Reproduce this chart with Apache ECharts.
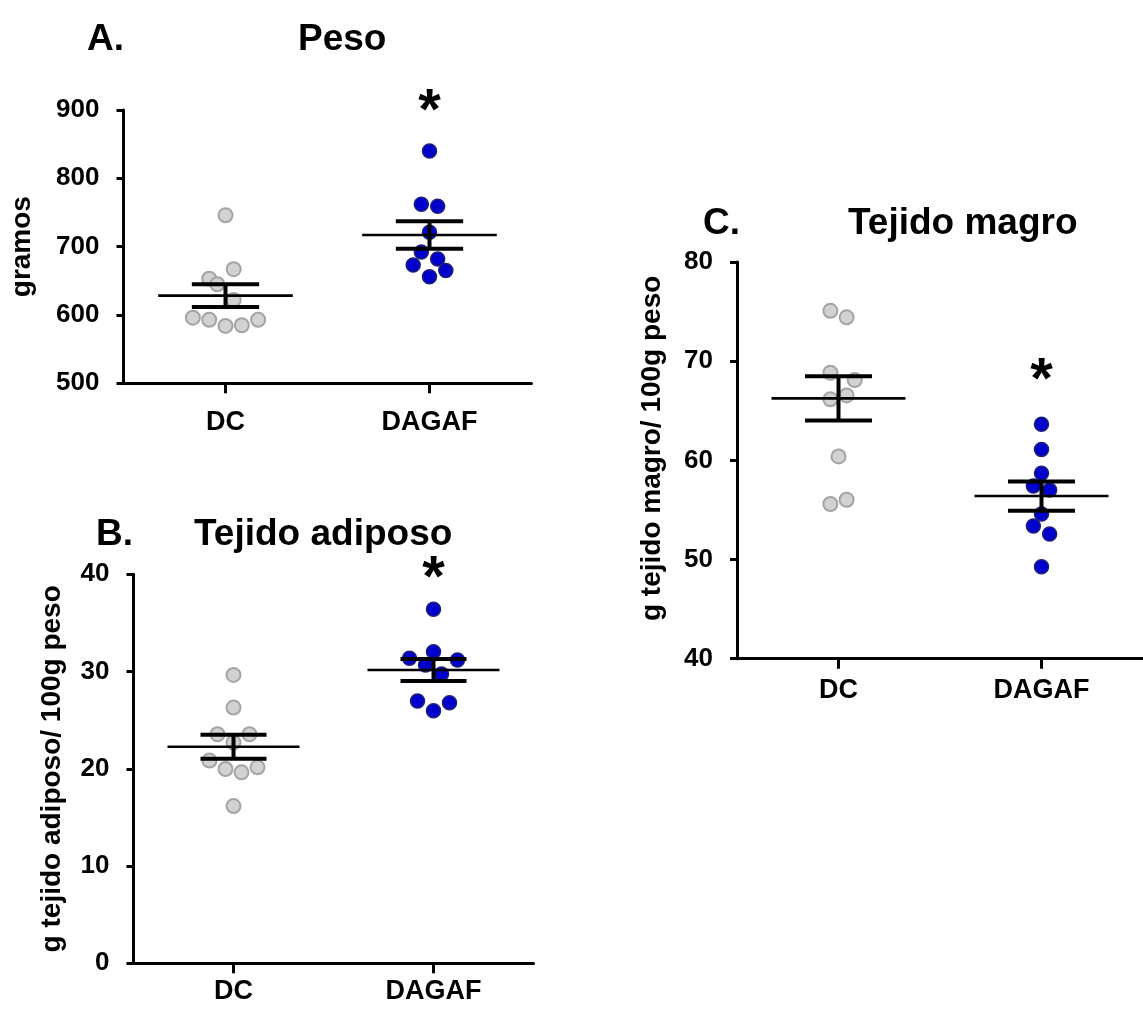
<!DOCTYPE html>
<html><head><meta charset="utf-8">
<script src="https://cdn.jsdelivr.net/npm/echarts@6/dist/echarts.min.js"></script>
<style>html,body{margin:0;padding:0;background:#fff}#c{width:1143px;height:1009px}</style>
</head><body><div id="c"></div>
<script>
// ---------- DATA ----------
const categories = ['DC', 'DAGAF'];

// A. Peso (gramos)
const pesoDC = [746, 667, 653, 645, 622, 596, 593, 584, 585, 593];
const pesoDCJitter = [0, 0.04, -0.08, -0.04, 0.04, -0.16, -0.08, 0, 0.08, 0.16];
const pesoDAGAF = [840, 762, 759, 721, 692, 682, 673, 665, 656];
const pesoDAGAFJitter = [0, -0.04, 0.04, 0, -0.04, 0.04, -0.08, 0.08, 0];
const pesoMean = [628.3, 717];
const pesoSEM = [16.6, 20];

// B. Tejido adiposo (g / 100g peso)
const adipDC = [29.65, 26.3, 23.55, 23.55, 22.7, 20.85, 20.15, 19.98, 19.64, 16.17];
const adipDCJitter = [0, 0, -0.08, 0.08, 0, -0.12, 0.12, -0.04, 0.04, 0];
const adipDAGAF = [36.4, 32.04, 31.36, 31.19, 30.67, 29.75, 26.97, 26.8, 25.97];
const adipDAGAFJitter = [0, 0, -0.12, 0.12, -0.04, 0.04, -0.08, 0.08, 0];
const adipMean = [22.27, 30.16];
const adipSEM = [1.24, 1.12];

// C. Tejido magro (g / 100g peso)
const magroDC = [75.08, 74.42, 68.83, 68.1, 66.55, 66.15, 60.4, 56.03, 55.6];
const magroDCJitter = [-0.04, 0.04, -0.04, 0.08, 0.04, -0.04, 0, 0.04, -0.04];
const magroDAGAF = [63.63, 61.1, 58.69, 57.41, 57.0, 54.59, 53.38, 52.57, 49.27];
const magroDAGAFJitter = [0, 0, 0, -0.04, 0.04, 0, -0.04, 0.04, 0];
const magroMean = [66.25, 56.4];
const magroSEM = [2.23, 1.48];

// significance marks (group index, y position of mark)
const starA = [1, 895];
const starB = [1, 39.4];
const starC = [1, 67.9];

// ---------- CHART ----------
const FONT = '"Liberation Sans", Arial, sans-serif';
const chart = echarts.init(document.getElementById('c'), null, {renderer: 'canvas'});

function pts(vals, jit, g) {
  return vals.map((v, i) => [g + 0.5 + jit[i], v]);
}
function errData(mean, sem) {
  return mean.map((m, i) => [i + 0.5, m, sem[i]]);
}
function errRender(params, api) {
  const x = api.value(0), m = api.value(1), s = api.value(2);
  const a = api.coord([x - 0.33, m]), b = api.coord([x + 0.33, m]);
  const u1 = api.coord([x - 0.165, m + s]), u2 = api.coord([x + 0.165, m + s]);
  const l1 = api.coord([x - 0.165, m - s]), l2 = api.coord([x + 0.165, m - s]);
  const c = api.coord([x, m]);
  const ln = (p, q, w) => ({type: 'line', shape: {x1: p[0], y1: p[1], x2: q[0], y2: q[1]},
    style: {stroke: '#000', lineWidth: w}});
  return {type: 'group', children: [
    ln(a, b, 2.6),
    ln(u1, u2, 4),
    ln(l1, l2, 4),
    ln([c[0], u1[1]], [c[0], l1[1]], 4)
  ]};
}
function starRender(params, api) {
  const p = api.coord([api.value(0) + 0.5, api.value(1)]);
  return {type: 'text', x: p[0], y: p[1],
    style: {text: '*', fill: '#000', font: 'bold 58px ' + FONT, align: 'center', verticalAlign: 'middle'}};
}

const grids = [
  {left: 123.5, top: 110, width: 408, height: 273.3},
  {left: 133.5, top: 574.3, width: 400, height: 389},
  {left: 737, top: 262, width: 414, height: 396.7}
];
const labelMargins = [26, 15, 18];
const yCfg = [
  {min: 500, max: 900, interval: 100, name: 'gramos', gap: 87, pad: [0, 0, 0, 0]},
  {min: 0, max: 40, interval: 10, name: 'g tejido adiposo/ 100g peso', gap: 67, pad: [0, 0, 0, 0]},
  {min: 40, max: 80, interval: 10, name: 'g tejido magro/ 100g peso', gap: 71, pad: [0, 0, 0, 24]}
];

const xAxes = [], yAxes = [];
grids.forEach((g, i) => {
  xAxes.push({
    type: 'category', gridIndex: i, data: categories, boundaryGap: true,
    axisLine: {show: true, lineStyle: {color: '#000', width: 3}},
    axisTick: {show: true, alignWithLabel: true, length: 10, lineStyle: {color: '#000', width: 3}},
    axisLabel: {color: '#000', fontFamily: FONT, fontWeight: 'bold', fontSize: 27, margin: labelMargins[i]},
    splitLine: {show: false}
  });
  xAxes.push({
    type: 'value', gridIndex: i, min: 0, max: 2, show: false, splitLine: {show: false}
  });
  const y = yCfg[i];
  yAxes.push({
    type: 'value', gridIndex: i, min: y.min, max: y.max, interval: y.interval,
    name: y.name, nameLocation: 'middle', nameGap: y.gap, nameRotate: 90,
    nameTextStyle: {color: '#000', fontFamily: FONT, fontWeight: 'bold', fontSize: 28, padding: y.pad},
    axisLine: {show: true, lineStyle: {color: '#000', width: 3}},
    axisTick: {show: true, length: 7, lineStyle: {color: '#000', width: 3}},
    axisLabel: {color: '#000', fontFamily: FONT, fontWeight: 'bold', fontSize: 26, margin: 24},
    splitLine: {show: false}
  });
});

const grayStyle = {color: '#d2d2d2', borderColor: '#a4a4a4', borderWidth: 2, opacity: 1};
const blueStyle = {color: '#0000cc', borderColor: '#1f1f7a', borderWidth: 1.5, opacity: 1};

const panels = [
  [pesoDC, pesoDCJitter, pesoDAGAF, pesoDAGAFJitter, pesoMean, pesoSEM, starA],
  [adipDC, adipDCJitter, adipDAGAF, adipDAGAFJitter, adipMean, adipSEM, starB],
  [magroDC, magroDCJitter, magroDAGAF, magroDAGAFJitter, magroMean, magroSEM, starC]
];
const series = [];
panels.forEach((p, i) => {
  const xi = 2 * i + 1;
  series.push({type: 'scatter', xAxisIndex: xi, yAxisIndex: i, data: pts(p[0], p[1], 0),
    symbol: 'circle', symbolSize: 14, itemStyle: grayStyle, z: 2, silent: true});
  series.push({type: 'scatter', xAxisIndex: xi, yAxisIndex: i, data: pts(p[2], p[3], 1),
    symbol: 'circle', symbolSize: 14, itemStyle: blueStyle, z: 2, silent: true});
  series.push({type: 'custom', xAxisIndex: xi, yAxisIndex: i, data: errData(p[4], p[5]),
    renderItem: errRender, z: 5, silent: true, clip: false});
  series.push({type: 'custom', xAxisIndex: xi, yAxisIndex: i, data: [p[6]],
    renderItem: starRender, z: 5, silent: true, clip: false});
});

const tStyle = {color: '#000', fontFamily: FONT, fontWeight: 'bold', fontSize: 37};
const titles = [
  {text: 'A.', left: 87, top: 21},
  {text: 'Peso', left: 298, top: 21},
  {text: 'B.', left: 96, top: 516},
  {text: 'Tejido adiposo', left: 194, top: 516},
  {text: 'C.', left: 703, top: 205},
  {text: 'Tejido magro', left: 848, top: 205}
].map(t => Object.assign({padding: 0, textStyle: tStyle}, t));

chart.setOption({
  animation: false,
  backgroundColor: '#fff',
  title: titles,
  grid: grids,
  xAxis: xAxes,
  yAxis: yAxes,
  series: series
});
</script>
</body></html>
